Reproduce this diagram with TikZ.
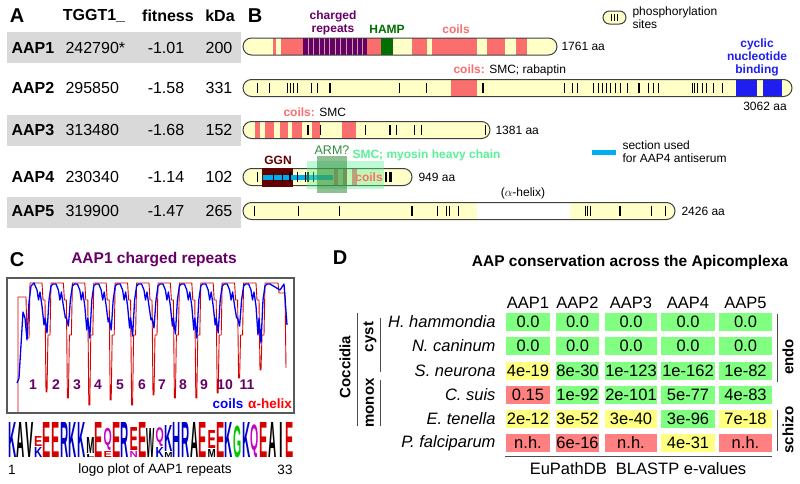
\documentclass[tikz,border=0pt]{standalone}
\usepackage{fontspec}
\setmainfont{Liberation Sans}
\usepackage{graphicx}

\definecolor{barfill}{RGB}{255,255,200}
\definecolor{coilred}{RGB}{250,110,110}
\definecolor{repeatpurple}{RGB}{102,0,102}
\definecolor{hampgreen}{RGB}{0,110,0}
\definecolor{cnbblue}{RGB}{30,30,240}
\definecolor{ggnbrown}{RGB}{100,0,0}
\definecolor{smcgreen}{RGB}{90,240,150}
\definecolor{armgreen}{RGB}{50,140,60}
\definecolor{rowgray}{RGB}{217,217,217}
\definecolor{cellgreen}{RGB}{128,255,128}
\definecolor{cellyellow}{RGB}{255,255,128}
\definecolor{cellred}{RGB}{255,128,128}
\definecolor{logoblue}{RGB}{0,0,200}
\definecolor{logored}{RGB}{215,0,0}
\definecolor{logomag}{RGB}{200,0,200}
\definecolor{logogreen}{RGB}{0,200,0}

% one letter of the sequence logo: column, bottom, height, colour, letter
\newcommand\logoch[6][8.2]{%
  \node[logo, text=#5] (lg-#2-#6) at ({8+8.67*(#2-0.5)},#3)
    {\resizebox*{#1pt}{#4pt}{\bfseries #6}};}

% one row of e-values in panel D
\newcommand\evrow[4]{%
  \node[species] (#1) at (499,#2) {#3};
  \foreach \v/\cl [count=\j] in {#4} {
    \pgfmathsetmacro\cx{{528,577.5,631,688,745.5}[\j-1]}
    \pgfmathsetmacro\cw{{44,43,52,54,53}[\j-1]}
    \node[cell, fill=\cl, minimum width=\cw pt] (#1-\j) at (\cx,#2) {\v};
  }}

\begin{document}
\begin{tikzpicture}[
  x=1pt, y=-1pt,
  panel/.style={font=\fontsize{20}{22}\selectfont\bfseries},
  atxt/.style={font=\fontsize{16}{18}\selectfont},
  ahdr/.style={font=\fontsize{16}{18}\selectfont\bfseries},
  btxt/.style={font=\fontsize{12}{13}\selectfont, align=left},
  blbl/.style={font=\fontsize{12}{13}\selectfont\bfseries, align=center},
  barline/.style={draw=black!75, line width=1pt, rounded corners=8.5pt},
  tk/.style={line width=1pt},
  tkk/.style={line width=2.4pt},
  logo/.style={anchor=south, inner sep=0pt},
  species/.style={anchor=east, font=\fontsize{16.5}{18}\selectfont\itshape},
  cell/.style={inner sep=0pt, minimum height=18pt, font=\fontsize{16.5}{18}\selectfont},
  dtxt/.style={font=\fontsize{16.5}{18}\selectfont},
  grp/.style={font=\fontsize{15}{17}\selectfont\bfseries, rotate=90},
]
\path[use as bounding box] (0,0) rectangle (800,483);

% ---------- panel A ----------
\node[panel] (lblA) at (17,16) {A};
\node[ahdr] (hid) at (94,16) {TGGT1\_};
\node[ahdr] (hfit) at (168,16) {fitness};
\node[ahdr] (hkda) at (220,16) {kDa};
\foreach \y in {32,115,197}
  \fill[rowgray] (7,\y) rectangle (241,\y+31);
\foreach \n/\id/\f/\k/\y in {AAP1/242790*/-1.01/200/47.5, AAP2/295850/-1.58/331/88,
    AAP3/313480/-1.68/152/130, AAP4/230340/-1.14/102/177, AAP5/319900/-1.47/265/211} {
  \node[ahdr, anchor=west] (n-\n) at (8,\y) {\n};
  \node[atxt, anchor=west] (id-\n) at (62,\y) {\id};
  \node[atxt] (f-\n) at (166,\y) {\f};
  \node[atxt] (k-\n) at (219,\y) {\k};
}

% ---------- panel B ----------
\node[panel] (lblB) at (255,16) {B};
\node[blbl, text=repeatpurple] (crep) at (333,22.5) {charged\\repeats};
\node[blbl, text=hampgreen] (hamp) at (387,29) {HAMP};
\node[blbl, text=coilred] (coil1) at (456,29) {coils};

% phosphorylation legend
\draw[barline, fill=barfill, rounded corners=6.5pt] (603,11) rectangle (626,24);
\foreach \t in {611.5,614.5,617.5} \draw[tk] (\t,14) -- (\t,21);
\node[btxt, anchor=west] (phos) at (629,17.5) {phosphorylation\\sites};

% AAP1
\begin{scope}
  \clip[rounded corners=8.5pt] (243,38) rectangle (557,55);
  \fill[barfill] (243,38) rectangle (557,55);
  \foreach \a/\b in {273/276,281/303,367/381,412/427,432/477,487/505,516/527}
    \fill[coilred] (\a,38) rectangle (\b,55);
  \fill[repeatpurple] (303,38) rectangle (367,55);
  \foreach \t in {308,313,319,324,329,335,340,346,352,357,362}
    \draw[repeatpurple!35!barfill, line width=0.8pt] (\t,38) -- (\t,55);
  \fill[hampgreen] (381,38) rectangle (393,55);
\end{scope}
\draw[barline] (243,38) rectangle (557,55);
\node[btxt, anchor=west] (len1) at (558,46.5) {1761 aa};

% AAP2
\node[btxt, anchor=west] (coil2) at (450,70) {\textcolor{coilred}{\bfseries coils:} SMC; rabaptin};
\node[blbl, text=cnbblue] (cnb) at (757,57) {cyclic\\nucleotide\\binding};
\begin{scope}
  \clip[rounded corners=8.5pt] (243,79.5) rectangle (792,96.5);
  \fill[barfill] (243,79.5) rectangle (792,96.5);
  \fill[coilred] (451,79.5) rectangle (477,96.5);
  \fill[cnbblue] (736,79.5) rectangle (757,96.5);
  \fill[cnbblue] (763,79.5) rectangle (782,96.5);
\end{scope}
\foreach \t in {257,269,287,290,293,297,311,317,399,426,564,572,577,593,598,602,606,
    610,615,620,627,648,653,658,692,694.5,697,702,706,713,722}
  \draw[tk] (\t,83) -- (\t,93);
\foreach \t in {330,483,639} \draw[tkk] (\t,83) -- (\t,93);
\draw[barline] (243,79.5) rectangle (792,96.5);
\node[btxt] (len2) at (765,106) {3062 aa};

% AAP3
\node[btxt, anchor=west] (coil3) at (280,112) {\textcolor{coilred}{\bfseries coils:} SMC};
\begin{scope}
  \clip[rounded corners=8.5pt] (243,121.5) rectangle (490,138.5);
  \fill[barfill] (243,121.5) rectangle (490,138.5);
  \foreach \a/\b in {255/260,265/274,280/288,292/302,312/320,342/356}
    \fill[coilred] (\a,121.5) rectangle (\b,138.5);
\end{scope}
\foreach \t in {320,365,396,414,421,485} \draw[tk] (\t,125) -- (\t,135);
\foreach \t in {308,390} \draw[tkk] (\t,125) -- (\t,135);
\draw[barline] (243,121.5) rectangle (490,138.5);
\node[btxt, anchor=west] (len3) at (492,130) {1381 aa};

% antiserum legend
\draw[cyan, line width=5pt] (592,152) -- (616,152);
\node[btxt, anchor=west] (anti) at (619,151.5) {section used\\for AAP4 antiserum};

% AAP4
\node[blbl, text=ggnbrown] (ggn) at (278,160) {GGN};
\node[font=\fontsize{12.5}{13}\selectfont, text=armgreen] (arm) at (332,150) {ARM?};
\node[blbl, text=smcgreen, anchor=west] (smc) at (349,155) {SMC; myosin heavy chain};
\begin{scope}
  \clip[rounded corners=8.5pt] (243,168.5) rectangle (412,185.5);
  \fill[barfill] (243,168.5) rectangle (412,185.5);
  \foreach \a/\b in {334/338,343/347,352/357}
    \fill[coilred] (\a,168.5) rectangle (\b,185.5);
\end{scope}
\draw[barline] (243,168.5) rectangle (412,185.5);
\fill[ggnbrown] (262,167.5) rectangle (293,186.5);
\draw[cyan, line width=5pt] (263,177) -- (333,177);
\foreach \t in {257,273,282,297,305,313} \draw[tk] (\t,172) -- (\t,182);
\foreach \t in {290,308,386,390.5} \draw[tkk] (\t,172) -- (\t,182);
\fill[smcgreen, opacity=0.4] (307,161) rectangle (384,189);
\fill[armgreen, opacity=0.55] (317,156) rectangle (347,193);
\node[blbl, text=coilred] (coil4) at (369,177) {coils};
\node[btxt, anchor=west] (len4) at (415,177) {949 aa};

% AAP5
\node[btxt] (ahx) at (523,193) {(\(\alpha\)-helix)};
\begin{scope}
  \clip[rounded corners=8.5pt] (243,202.5) rectangle (675,219.5);
  \fill[barfill] (243,202.5) rectangle (477,219.5);
  \fill[barfill] (570,202.5) rectangle (675,219.5);
\end{scope}
\foreach \t in {254,298,339,437,446.5,449.5,458,585,587.5,590,651,665}
  \draw[tk] (\t,206) -- (\t,216);
\foreach \t in {412,620} \draw[tkk] (\t,206) -- (\t,216);
\draw[barline] (243,202.5) rectangle (675,219.5);
\node[btxt, anchor=west] (len5) at (678,211) {2426 aa};

% ---------- panel C ----------
\node[panel] (lblC) at (17,260) {C};
\node[font=\fontsize{15.5}{17}\selectfont\bfseries, text=repeatpurple] (ctitle) at (154,260) {AAP1 charged repeats};
\draw[red!85!black, line width=0.9pt, line join=round]
  (18,412) -- (18,297) -- (26,297) -- (27,338) -- (29,338) -- (30,283)
  foreach \k/\d in {0/392,1/398,2/405,3/400,4/405,5/395,6/398,7/398,8/393,9/378,10/370}
  { -- (42+21.4*\k,283) -- (43+21.4*\k,300) -- (45+21.4*\k,300) -- (46+21.4*\k,\d)
    -- (47+21.4*\k,\d) -- (48+21.4*\k,335) -- (50+21.4*\k,335) -- (51+21.4*\k,283) }
  -- (278,283) -- (279,293) -- (285,293) -- (286,368);
\draw[blue!95!black, line width=1.3pt, line join=round]
  (17,383) -- (19,378) -- (21,345) -- (23,312) -- (25,318) -- (27,340) -- (29,302)
  -- (31,286) -- (34,283)
  foreach \k/\b in {0/325,1/318,2/330,3/322,4/328,5/320,6/326,7/330,8/325,9/318,10/335}
  { -- (37+21.4*\k,290) -- (38.5+21.4*\k,300) -- (40+21.4*\k,292) -- (42+21.4*\k,306)
    -- (44+21.4*\k,\b) -- (45+21.4*\k,318) -- (47+21.4*\k,\b+8) -- (49+21.4*\k,300)
    -- (51+21.4*\k,286) -- (53+21.4*\k,284) -- (56+21.4*\k,284) }
  -- (280,290) -- (284,284) -- (287,325);
\draw[black!65, line width=1.5pt] (7,278) rectangle (294,413);
\foreach \n/\x in {1/33,2/56,3/77,4/98,5/120,6/142,7/162,8/183,9/204,10/225,11/247}
  \node[font=\fontsize{14}{15}\selectfont\bfseries, text=repeatpurple] (rp-\n) at (\x,385) {\n};
\node[font=\fontsize{13.5}{15}\selectfont\bfseries, text=blue] (lcoil) at (228,404) {coils};
\node[font=\fontsize{13.5}{15}\selectfont\bfseries, text=red] (lhelix) at (270,404) {α-helix};

% sequence logo
\logoch{1}{458}{35}{logoblue}{K}
\logoch{2}{458}{35}{black}{A}
\logoch{3}{458}{35}{black}{V}
\logoch{4}{446.5}{10}{logored}{E}
\logoch{4}{458}{10}{logoblue}{K}
\logoch{5}{458}{35}{logored}{E}
\logoch{6}{458}{35}{logored}{E}
\logoch{7}{458}{35}{logoblue}{R}
\logoch{8}{458}{35}{logoblue}{K}
\logoch{9}{458}{35}{logoblue}{K}
\logoch{10}{454}{16}{black}{M}
\logoch{10}{458}{3}{black}{L}
\logoch{11}{458}{35}{logored}{E}
\logoch{12}{451}{22}{logomag}{Q}
\logoch{12}{458}{6}{logored}{E}
\logoch{13}{458}{35}{logored}{E}
\logoch{14}{458}{35}{logoblue}{R}
\logoch{15}{451}{23}{logored}{E}
\logoch{15}{458}{6}{logomag}{N}
\logoch{16}{458}{35}{logored}{E}
\logoch{17}{458}{29}{black}{W}
\logoch{18}{446.5}{19}{logomag}{Q}
\logoch{18}{458}{10}{logoblue}{K}
\logoch{19}{452}{26}{logoblue}{K}
\logoch{19}{458}{5}{black}{M}
\logoch{20}{458}{35}{logoblue}{H}
\logoch{21}{458}{35}{logoblue}{R}
\logoch{22}{458}{35}{black}{A}
\logoch{23}{458}{35}{logored}{E}
\logoch{24}{449}{18}{logored}{E}
\logoch{24}{458}{8}{black}{M}
\logoch{25}{458}{35}{logored}{E}
\logoch{26}{458}{35}{logoblue}{K}
\logoch{27}{458}{32}{logogreen}{G}
\logoch{28}{458}{35}{logoblue}{K}
\logoch{29}{458}{33}{logomag}{Q}
\logoch{30}{458}{35}{logored}{E}
\logoch{31}{458}{35}{black}{A}
\logoch[3.5]{32}{458}{35}{black}{I}
\logoch{33}{458}{35}{logored}{E}
\node[font=\fontsize{13.5}{15}\selectfont] (lg1) at (12,470) {1};
\node[font=\fontsize{13.5}{15}\selectfont] (lgcap) at (155,470) {logo plot of AAP1 repeats};
\node[font=\fontsize{13.5}{15}\selectfont] (lg33) at (285,470) {33};

% ---------- panel D ----------
\node[panel] (lblD) at (340,258) {D};
\node[font=\fontsize{15.5}{17}\selectfont\bfseries] (dtitle) at (630,262) {AAP conservation across the Apicomplexa};
\foreach \n/\x in {1/528,2/577.5,3/631,4/688,5/745.5}
  \node[dtxt] (col-\n) at (\x,303) {AAP\n};
\evrow{hh}{322}{H. hammondia}{0.0/cellgreen,0.0/cellgreen,0.0/cellgreen,0.0/cellgreen,0.0/cellgreen}
\evrow{nc}{346}{N. caninum}{0.0/cellgreen,0.0/cellgreen,0.0/cellgreen,0.0/cellgreen,0.0/cellgreen}
\evrow{sn}{371}{S. neurona}{4e-19/cellyellow,8e-30/cellgreen,1e-123/cellgreen,1e-162/cellgreen,1e-82/cellgreen}
\evrow{cs}{395}{C. suis}{0.15/cellred,1e-92/cellgreen,2e-101/cellgreen,5e-77/cellgreen,4e-83/cellgreen}
\evrow{et}{419}{E. tenella}{2e-12/cellyellow,3e-52/cellyellow,3e-40/cellyellow,3e-96/cellgreen,7e-18/cellyellow}
\evrow{pf}{443}{P. falciparum}{n.h./cellred,6e-16/cellred,n.h./cellred,4e-31/cellyellow,n.h./cellred}

% grouping brackets
\draw[black!70, line width=1pt] (357,313) -- (357,426);
\node[grp] (cocc) at (345,367) {Coccidia};
\draw[black!70, line width=1pt] (380,318) -- (380,372);
\node[grp] (cyst) at (370,337) {cyst};
\draw[black!70, line width=1pt] (380,380) -- (380,426);
\node[grp] (monox) at (370,403) {monox};
\draw[black!70, line width=1pt] (777,314) -- (777,382);
\node[grp] (endo) at (788,357) {endo};
\draw[black!70, line width=1pt] (777,410) -- (777,451);
\node[grp] (schizo) at (788,430) {schizo};
\draw[black!70, line width=1pt] (505,456) -- (772,456);
\node[dtxt] (blast) at (638,469) {EuPathDB\ \ BLASTP e-values};
\end{tikzpicture}
\end{document}
